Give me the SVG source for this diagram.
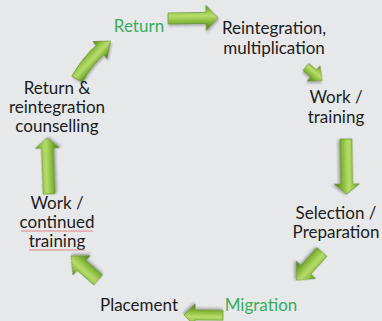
<svg xmlns="http://www.w3.org/2000/svg" width="382" height="321" viewBox="0 0 382 321">
<style>
.t{font-family:Lato,"Open Sans","Liberation Sans",sans-serif;font-size:17px;fill:#1c1c1c;text-anchor:middle}
.g{fill:#38ad5c}
.arr{fill:url(#ag);stroke:#5a8a22;stroke-width:0.6;filter:url(#sh)}
.sp{fill:none;stroke:#e07a7a;stroke-width:0.9}
</style>
<defs>
<linearGradient id="ag" x1="0" y1="0" x2="0" y2="1">
<stop offset="0" stop-color="#588a20"/>
<stop offset="0.22" stop-color="#93c447"/>
<stop offset="0.42" stop-color="#b8dc6c"/>
<stop offset="0.68" stop-color="#82b537"/>
<stop offset="1" stop-color="#4a7818"/>
</linearGradient>
<linearGradient id="agc" x1="0" y1="0" x2="1" y2="1">
<stop offset="0.3" stop-color="#588a20"/>
<stop offset="0.41" stop-color="#98c84c"/>
<stop offset="0.49" stop-color="#b8dc6c"/>
<stop offset="0.58" stop-color="#82b537"/>
<stop offset="0.66" stop-color="#4a7818"/>
</linearGradient>
<filter id="sh" x="-30%" y="-30%" width="160%" height="160%">
<feDropShadow dx="1" dy="2" stdDeviation="1.2" flood-color="#333" flood-opacity="0.35"/>
</filter>
</defs>
<rect width="382" height="321" fill="#e7e8ea"/>

<g id="connectors">
<path class="arr" transform="translate(168,18.5) rotate(-1)" d="M0,-5.5 L38,-5.5 L38,-12.5 L50,0 L38,12.5 L38,5.5 L0,5.5 Z"/>
<path class="arr" transform="translate(306,67) rotate(40)" d="M0,-4.5 L10,-4.5 L10,-10 L21,0 L10,10 L10,4.5 L0,4.5 Z"/>
<path class="arr" transform="translate(346,139) rotate(89)" d="M0,-6 L45,-6 L45,-12.5 L55,0 L45,12.5 L45,6 L0,6 Z"/>
<path class="arr" transform="translate(322,252) rotate(132)" d="M0,-6.5 L24,-6.5 L24,-13 L38,0 L24,13 L24,6.5 L0,6.5 Z"/>
<path class="arr" transform="translate(223,315.5) rotate(181)" d="M0,-5 L28,-5 L28,-11 L39,0 L28,11 L28,5 L0,5 Z"/>
<path class="arr" transform="translate(98,280) rotate(221.6)" d="M0,-6.5 L22,-6.5 L22,-13 L36,0 L22,13 L22,6.5 L0,6.5 Z"/>
<path class="arr" transform="translate(49,194) rotate(-92)" d="M0,-6 L46,-6 L46,-12 L56,0 L46,12 L46,6 L0,6 Z"/>
<path class="arr" style="fill:url(#agc)" d="M71.8,76 Q83.5,56 96.2,45.4 L93,41.5 L110.5,41 L107,58.5 L103.8,54.6 Q92.5,64 82.2,82 Z"/>
</g>

<g id="n-return"><text class="t g" x="139" y="32">Return</text></g>
<g id="n-reintegration"><text class="t" x="274" y="34">Reintegration,</text><text class="t" x="274" y="54">multiplication</text></g>
<g id="n-work-training"><text class="t" x="336" y="103">Work /</text><text class="t" x="336" y="123">training</text></g>
<g id="n-selection"><text class="t" x="336" y="219">Selection /</text><text class="t" x="336" y="238">Preparation</text></g>
<g id="n-migration"><text class="t g" x="261" y="311">Migration</text></g>
<g id="n-placement"><text class="t" x="139" y="311">Placement</text></g>
<g id="n-work-continued"><text class="t" x="57" y="209">Work /</text><text class="t" x="57" y="228">continued</text><text class="t" x="57" y="247">training</text>
<path class="sp" d="M21,231 L93,231"/><path class="sp" d="M29,250 L85,250"/></g>
<g id="n-counselling"><text class="t" x="57" y="94">Return &amp;</text><text class="t" x="57" y="113">reintegration</text><text class="t" x="57" y="132">counselling</text></g>
</svg>
